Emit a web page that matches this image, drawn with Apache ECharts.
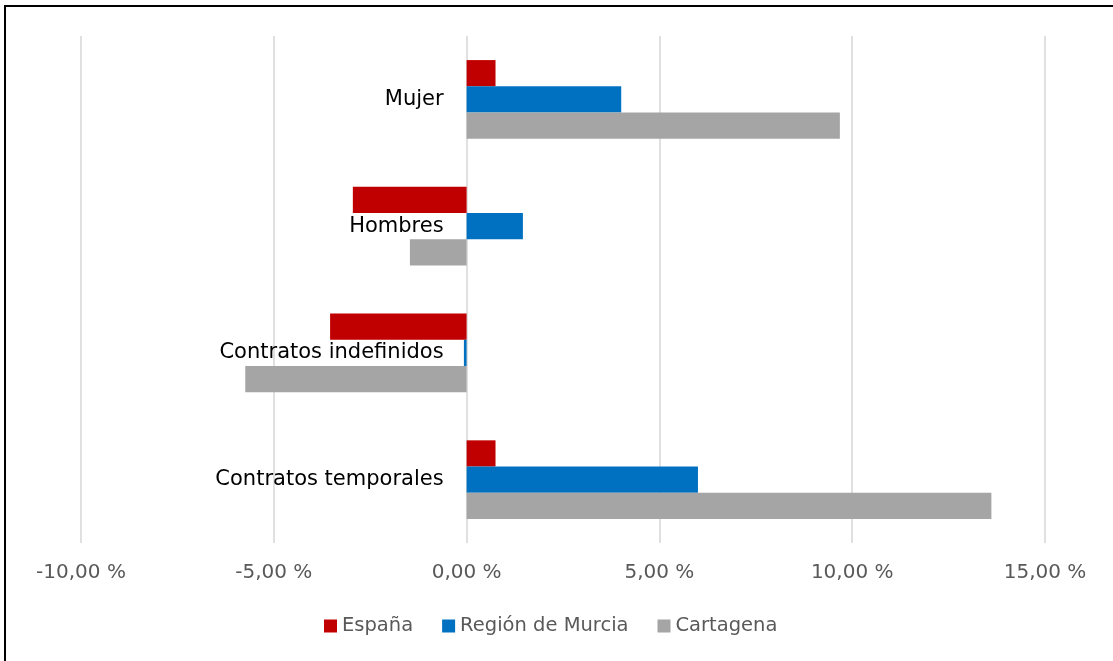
<!DOCTYPE html>
<html>
<head>
<meta charset="utf-8">
<script src="https://cdn.jsdelivr.net/npm/echarts@6/dist/echarts.min.js"></script>
<style>
html,body{margin:0;padding:0;background:#fff;}
#chart{width:1113px;height:661px;}
</style>
</head>
<body>
<div id="chart"></div>
<script>
const categories = ['Mujer', 'Hombres', 'Contratos indefinidos', 'Contratos temporales'];
const seriesNames = ['España', 'Región de Murcia', 'Cartagena'];
const espana = [0.75, -2.95, -3.54, 0.75];
const murcia = [4.01, 1.46, -0.07, 6.0];
const cartagena = [9.68, -1.47, -5.74, 13.61];
const xTicks = { min: -10, max: 15, interval: 5 };
const colors = ['#C00000', '#0070C0', '#A5A5A5'];

const chart = echarts.init(document.getElementById('chart'), null, { renderer: 'canvas' });
const fmt = v => v.toFixed(2).replace('.', ',') + ' %';

const option = {
  backgroundColor: '#ffffff',
  animation: false,
  color: colors,
  textStyle: { fontFamily: 'DejaVu Sans' },
  graphic: [{
    type: 'rect',
    shape: { x: 5, y: 6, width: 1300, height: 800 },
    style: { fill: 'none', stroke: '#000000', lineWidth: 2 },
    silent: true
  }],
  grid: { left: 81, right: 68, top: 36, bottom: 118, containLabel: false, outerBoundsMode: 'none' },
  legend: {
    data: seriesNames,
    left: 324,
    top: 616,
    padding: 0,
    itemWidth: 13,
    itemHeight: 13,
    itemGap: 29,
    icon: 'rect',
    textStyle: { fontSize: 19.5, color: '#595959', fontFamily: 'DejaVu Sans' }
  },
  xAxis: {
    type: 'value',
    min: xTicks.min,
    max: xTicks.max,
    interval: xTicks.interval,
    axisLine: { show: false },
    axisTick: { show: false },
    splitLine: { show: true, lineStyle: { color: '#D9D9D9', width: 1.6 } },
    axisLabel: {
      formatter: fmt,
      color: '#595959',
      fontSize: 20,
      margin: 20,
      fontFamily: 'DejaVu Sans'
    }
  },
  yAxis: {
    type: 'category',
    data: categories,
    inverse: true,
    offset: 0,
    axisLine: { show: false, onZero: false },
    axisTick: { show: false },
    splitLine: { show: false },
    axisLabel: {
      color: '#000000',
      fontSize: 21,
      margin: 23,
      fontFamily: 'DejaVu Sans'
    }
  },
  series: [
    { name: seriesNames[0], type: 'bar', data: espana, barGap: '0%', barCategoryGap: '38%' },
    { name: seriesNames[1], type: 'bar', data: murcia, barGap: '0%', barCategoryGap: '38%' },
    { name: seriesNames[2], type: 'bar', data: cartagena, barGap: '0%', barCategoryGap: '38%' }
  ]
};
chart.setOption(option);
// place the category labels at the zero line, using the library's own x scale
const zeroPx = chart.convertToPixel({ xAxisIndex: 0 }, 0);
const minPx = chart.convertToPixel({ xAxisIndex: 0 }, xTicks.min);
chart.setOption({ yAxis: { offset: -(zeroPx - minPx) } });
</script>
</body>
</html>
